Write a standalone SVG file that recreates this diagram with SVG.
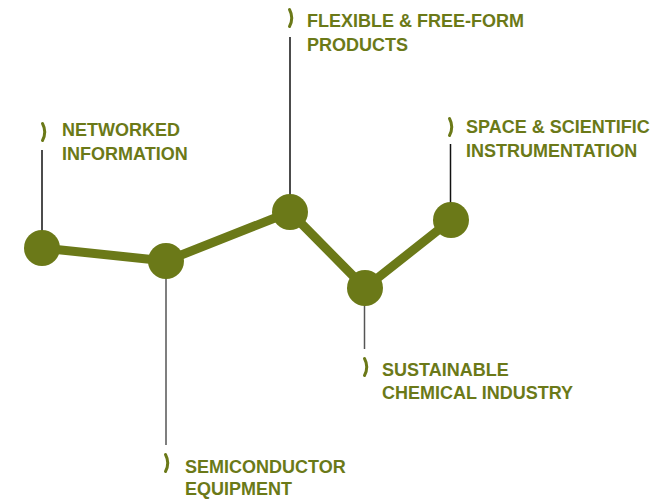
<svg xmlns="http://www.w3.org/2000/svg" width="671" height="501" viewBox="0 0 671 501">
<style>
.lbl{font-family:"Liberation Sans",Arial,sans-serif;font-weight:bold;font-size:18px;fill:#6b7918}
.chev{fill:none;stroke:#6b7918;stroke-width:3;stroke-linecap:round;stroke-linejoin:round}
.lead{stroke:#111;stroke-width:1.5}
.leadb{stroke:#555;stroke-width:1.5}
.dot{fill:#6b7918}
.path{fill:none;stroke:#6b7918;stroke-width:9;stroke-linejoin:round}
</style>
<rect width="671" height="501" fill="#fff"/>
<g id="connectors">
<polyline class="path" points="42,248 166,261 290,212 365,288 451,220"/>
<line class="lead" x1="42" y1="150" x2="42" y2="242"/>
<line class="leadb" x1="166" y1="267" x2="166" y2="445"/>
<line class="lead" x1="290" y1="37" x2="290" y2="205"/>
<line class="leadb" x1="364.5" y1="293" x2="364.5" y2="349"/>
<line class="lead" x1="450.5" y1="144" x2="450.5" y2="214"/>
</g>
<g id="node-networked">
<circle class="dot" cx="42" cy="248" r="18"/>
<path class="chev" d="M42.5,123.5 Q47,132 42.5,140.5"/>
<text class="lbl" x="62" y="136">NETWORKED</text>
<text class="lbl" x="62" y="160">INFORMATION</text>
</g>
<g id="node-semiconductor">
<circle class="dot" cx="166" cy="261" r="18"/>
<path class="chev" d="M165.5,454.5 Q170,463 165.5,471.5"/>
<text class="lbl" x="185" y="473">SEMICONDUCTOR</text>
<text class="lbl" x="185" y="495">EQUIPMENT</text>
</g>
<g id="node-flexible">
<circle class="dot" cx="290" cy="212" r="18"/>
<path class="chev" d="M289.5,9.5 Q294,18 289.5,26.5"/>
<text class="lbl" x="307" y="27">FLEXIBLE &amp; FREE-FORM</text>
<text class="lbl" x="307" y="51">PRODUCTS</text>
</g>
<g id="node-sustainable">
<circle class="dot" cx="365" cy="288" r="18"/>
<path class="chev" d="M364.5,358.5 Q369,367 364.5,375.5"/>
<text class="lbl" x="382" y="376">SUSTAINABLE</text>
<text class="lbl" x="382" y="399">CHEMICAL INDUSTRY</text>
</g>
<g id="node-space">
<circle class="dot" cx="451" cy="220" r="18"/>
<path class="chev" d="M449.5,118.5 Q454,127 449.5,135.5"/>
<text class="lbl" x="466" y="133">SPACE &amp; SCIENTIFIC</text>
<text class="lbl" x="466" y="157">INSTRUMENTATION</text>
</g>
</svg>
